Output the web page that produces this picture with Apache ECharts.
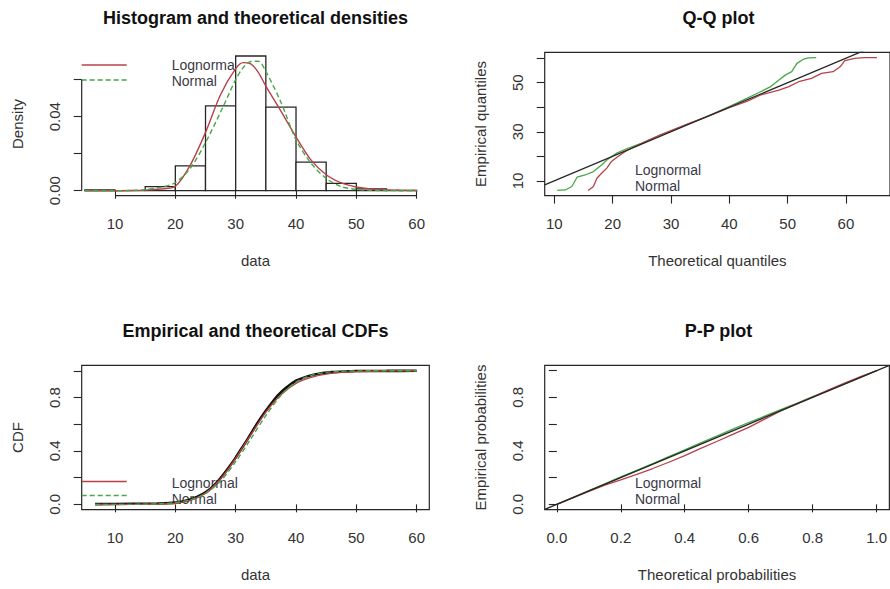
<!DOCTYPE html>
<html><head><meta charset="utf-8">
<script src="https://cdn.jsdelivr.net/npm/echarts@6/dist/echarts.min.js"></script>
<style>html,body{margin:0;padding:0;background:#fff}#c{width:890px;height:589px}</style>
</head><body><div id="c"></div>
<script>
// ---------- data ----------
const titles = ['Histogram and theoretical densities', 'Q-Q plot', 'Empirical and theoretical CDFs', 'P-P plot'];
const fitNames = ['Lognormal', 'Normal'];

// Histogram
const histBinStart = [5, 10, 15, 20, 25, 30, 35, 40, 45, 50, 55];
const histBinEnd   = [10, 15, 20, 25, 30, 35, 40, 45, 50, 55, 60];
const histDensity  = [0.0004, 0, 0.0022, 0.0134, 0.0458, 0.0728, 0.0452, 0.0154, 0.0040, 0.0010, 0.0002];
const densX     = [5, 7.5, 10, 12.5, 15, 17.5, 20, 22.5, 25, 27.5, 30, 31.25, 32.5, 33.75, 35, 37.5, 40, 42.5, 45, 47.5, 50, 52.5, 55, 57.5, 60];
const densLnorm = [0, 0, 0, 0.0001, 0.0003, 0.0009, 0.0024, 0.0140, 0.0315, 0.0520, 0.0660, 0.0692, 0.0685, 0.0640, 0.0565, 0.0430, 0.0290, 0.0165, 0.0086, 0.0042, 0.0020, 0.0009, 0.0004, 0.0002, 0.0001];
const densNorm  = [0, 0, 0, 0.0001, 0.0006, 0.0018, 0.0044, 0.0122, 0.0260, 0.0425, 0.0600, 0.0665, 0.0698, 0.0700, 0.0645, 0.0478, 0.0275, 0.0148, 0.0066, 0.0022, 0.0007, 0.0002, 0.0001, 0, 0];

// Q-Q plot (theoretical, empirical quantiles)
const qqNormX  = [10.5, 11.9, 13.0, 13.9, 15.3, 16.7, 18.1, 19.0, 20.7, 22.6, 25, 28, 30, 33, 36, 40, 43, 45, 47, 48.5, 49.6, 50.7, 51.6, 52.7, 53.6, 54.9];
const qqNormY  = [6.1, 6.3, 7.7, 11.5, 12.4, 13.8, 16.5, 18.5, 21.3, 23.3, 25.4, 28.5, 30.3, 33.2, 36.1, 40.3, 43.6, 45.9, 48.3, 51.1, 53.1, 54.5, 57.9, 59.6, 60.1, 60.2];
const qqLnormX = [15.8, 16.7, 17.3, 18.1, 19.0, 19.8, 20.9, 22.1, 23.2, 25, 28, 30, 33, 36, 40, 43, 45.4, 48.5, 50.2, 51.9, 54.1, 55.8, 57.8, 59.0, 59.8, 61.5, 63.2, 65.3];
const qqLnormY = [6.1, 7.7, 11.1, 13.1, 15.2, 17.9, 19.9, 21.9, 23.3, 25.3, 28.6, 30.5, 33.3, 36.0, 39.8, 42.4, 45.0, 47.0, 48.4, 50.4, 51.8, 53.8, 54.5, 56.5, 59.0, 59.9, 60.2, 60.2];

// CDFs
const ecdfX = [6.7, 13, 17, 19, 20, 21, 22, 23, 24, 25, 26, 27, 28, 29, 30, 31, 32, 33, 34, 35, 36, 37, 38, 39, 40, 42, 44, 46, 48, 50, 55, 60];
const ecdfY = [0.002, 0.004, 0.006, 0.01, 0.013, 0.02, 0.03, 0.045, 0.065, 0.09, 0.125, 0.17, 0.225, 0.285, 0.35, 0.42, 0.49, 0.565, 0.635, 0.70, 0.76, 0.815, 0.86, 0.895, 0.925, 0.96, 0.98, 0.99, 0.995, 0.998, 0.999, 1.0];
const cdfX     = [6.7, 10, 12.5, 15, 17.5, 20, 22.5, 25, 27.5, 30, 32.5, 35, 37.5, 40, 42.5, 45, 47.5, 50, 52.5, 55, 57.5, 60];
const cdfLnorm = [0, 0, 0, 0.0005, 0.002, 0.008, 0.03, 0.085, 0.19, 0.345, 0.52, 0.69, 0.82, 0.905, 0.95, 0.975, 0.988, 0.994, 0.997, 0.999, 0.9995, 1];
const cdfNorm  = [0, 0, 0.0001, 0.001, 0.0045, 0.013, 0.035, 0.08, 0.175, 0.32, 0.49, 0.665, 0.815, 0.915, 0.965, 0.988, 0.996, 0.999, 1, 1, 1, 1];

// P-P plot (theoretical, empirical probabilities)
const ppLnormX = [0, 0.05, 0.1, 0.15, 0.2, 0.25, 0.3, 0.35, 0.4, 0.45, 0.5, 0.55, 0.6, 0.65, 0.7, 0.75, 0.8, 0.85, 0.9, 0.95, 1];
const ppLnormY = [0, 0.049, 0.097, 0.143, 0.183, 0.225, 0.268, 0.315, 0.365, 0.418, 0.47, 0.523, 0.576, 0.637, 0.698, 0.752, 0.803, 0.856, 0.906, 0.955, 1];
const ppNormX  = [0, 0.05, 0.1, 0.15, 0.2, 0.25, 0.3, 0.35, 0.4, 0.45, 0.5, 0.55, 0.6, 0.65, 0.7, 0.75, 0.8, 0.85, 0.9, 0.95, 1];
const ppNormY  = [0, 0.051, 0.102, 0.153, 0.205, 0.255, 0.305, 0.357, 0.408, 0.46, 0.51, 0.562, 0.612, 0.66, 0.708, 0.756, 0.805, 0.852, 0.9, 0.95, 1];

// Ticks and labels
const histXTicks = [10, 20, 30, 40, 50, 60];
const histYTicks = [0, 0.02, 0.04, 0.06];
const histYLabels = [0, 0.04];
const qqXTicks = [10, 20, 30, 40, 50, 60];
const qqYTicks = [10, 20, 30, 40, 50, 60];
const qqYLabels = [10, 30, 50];
const cdfXTicks = [10, 20, 30, 40, 50, 60];
const probTicks = [0, 0.2, 0.4, 0.6, 0.8, 1];
const probLabels = [0, 0.4, 0.8];
const axisNames = { hx: 'data', hy: 'Density', qx: 'Theoretical quantiles', qy: 'Empirical quantiles',
                    cx: 'data', cy: 'CDF', px: 'Theoretical probabilities', py: 'Empirical probabilities' };

// Axis limits (R-style 4% extension)
const lim = {
  hx: [4.48, 62.09], hy: [-0.00265, 0.0748],
  qx: [8.35, 67.55], qy: [4.0, 62.4],
  cx: [4.48, 62.09], cy: [-0.040, 1.041],
  px: [-0.038, 1.040], py: [-0.040, 1.040]
};

// ---------- chart ----------
const FONT = '"Liberation Sans", Arial, Helvetica, sans-serif';
const RED = '#b8404a', GREEN = '#46a846', INK = '#262626', TXT = '#333333', LEG = '#3a3a48';
const zip = (a, b) => a.map((v, i) => [v, b[i]]);

function axis(gi, key, ticks, labels, fmt, isY) {
  return {
    type: 'value', gridIndex: gi, min: lim[key][0], max: lim[key][1],
    name: axisNames[key], nameLocation: 'middle', nameGap: 57,
    nameTextStyle: { fontFamily: FONT, fontSize: 15, color: TXT },
    axisLine: { show: false }, splitLine: { show: false },
    axisTick: { show: true, customValues: ticks, length: 8, inside: false, lineStyle: { color: INK, width: 1.1 } },
    axisLabel: { show: true, customValues: labels, formatter: fmt, margin: 20, fontFamily: FONT,
                 fontSize: 15, color: TXT, rotate: isY ? 90 : 0, hideOverlap: false }
  };
}
const f0 = v => String(v), f1 = v => v.toFixed(1), f2 = v => v.toFixed(2);

const gridBase = { width: 347.6, show: true, borderColor: INK, borderWidth: 1.2, backgroundColor: 'transparent' };
const lineS = (xi, data, color, extra) => Object.assign({
  type: 'line', xAxisIndex: xi, yAxisIndex: xi, data, symbol: 'none', silent: true,
  lineStyle: { color, width: 1.4 }, animation: false
}, extra || {});

const option = {
  animation: false,
  grid: [
    Object.assign({}, gridBase, { left: 81.7, top: 52.3, height: 143.3, show: false }),
    Object.assign({}, gridBase, { left: 544.7, top: 52.3, height: 143.3 }),
    Object.assign({}, gridBase, { left: 81.7, top: 365.3, height: 144.4 }),
    Object.assign({}, gridBase, { left: 544.7, top: 365.3, height: 144.4 })
  ],
  xAxis: [
    axis(0, 'hx', histXTicks, histXTicks, f0, false),
    axis(1, 'qx', qqXTicks, qqXTicks, f0, false),
    axis(2, 'cx', cdfXTicks, cdfXTicks, f0, false),
    axis(3, 'px', probTicks, probTicks, f1, false)
  ],
  yAxis: [
    axis(0, 'hy', histYTicks, histYLabels, f2, true),
    axis(1, 'qy', qqYTicks, qqYLabels, f0, true),
    axis(2, 'cy', probTicks, probLabels, f1, true),
    axis(3, 'py', probTicks, probLabels, f1, true)
  ],
  series: [
    // Panel 1: histogram
    {
      type: 'custom', xAxisIndex: 0, yAxisIndex: 0, silent: true,
      data: histBinStart.map((s, i) => [s, histBinEnd[i], histDensity[i]]),
      encode: { x: [0, 1], y: 2 },
      renderItem: (params, api) => {
        const p0 = api.coord([api.value(0), api.value(2)]);
        const p1 = api.coord([api.value(1), 0]);
        return { type: 'rect', shape: { x: p0[0], y: p0[1], width: p1[0] - p0[0], height: p1[1] - p0[1] },
                 style: { fill: '#ffffff', stroke: INK, lineWidth: 1.3 } };
      }
    },
    lineS(0, zip(densX, densLnorm), RED, { smooth: 0.3 }),
    lineS(0, zip(densX, densNorm), GREEN, { smooth: 0.3, lineStyle: { color: GREEN, width: 1.4, type: [5, 3] } }),
    lineS(0, [[histXTicks[0], lim.hy[0]], [histXTicks[histXTicks.length - 1], lim.hy[0]]], INK, { clip: false, lineStyle: { color: INK, width: 1.2 } }),
    lineS(0, [[lim.hx[0], histYTicks[0]], [lim.hx[0], histYTicks[histYTicks.length - 1]]], INK, { clip: false, lineStyle: { color: INK, width: 1.2 } }),
    // Panel 2: Q-Q
    lineS(1, zip(qqNormX, qqNormY), GREEN, { lineStyle: { color: GREEN, width: 1.3 } }),
    lineS(1, zip(qqLnormX, qqLnormY), RED, { lineStyle: { color: RED, width: 1.3 } }),
    lineS(1, [[lim.qx[0], lim.qx[0]], [lim.qx[1], lim.qx[1]]], INK, { lineStyle: { color: INK, width: 1.3 } }),
    // Panel 3: CDFs
    lineS(2, zip(ecdfX, ecdfY), '#111', { smooth: 0.2, lineStyle: { color: '#111', width: 2.6 } }),
    lineS(2, zip(cdfX, cdfLnorm), RED, { smooth: 0.3 }),
    lineS(2, zip(cdfX, cdfNorm), GREEN, { smooth: 0.3, lineStyle: { color: GREEN, width: 1.4, type: [5, 3] } }),
    // Panel 4: P-P
    lineS(3, zip(ppNormX, ppNormY), GREEN, { lineStyle: { color: GREEN, width: 1.3 } }),
    lineS(3, zip(ppLnormX, ppLnormY), RED, { lineStyle: { color: RED, width: 1.3 } }),
    lineS(3, [[lim.px[0], lim.px[0]], [lim.px[1], lim.px[1]]], INK, { lineStyle: { color: INK, width: 1.3 } })
  ],
  graphic: []
};

const titlePos = [[255.5, 17.5], [718.5, 17.5], [255.5, 330.5], [718.5, 330.5]];
titles.forEach((t, i) => option.graphic.push({
  type: 'text', x: titlePos[i][0], y: titlePos[i][1], silent: true,
  style: { text: t, align: 'center', verticalAlign: 'middle', textAlign: 'center', textVerticalAlign: 'middle',
           font: 'bold 18px ' + FONT, fill: '#111' }
}));
// legends
const legendBlocks = [
  { x: 171.7, y: [65.3, 81.2], lines: [65, 80] },
  { x: 635, y: [169.8, 185.7], lines: null },
  { x: 171.7, y: [482.8, 498.7], lines: [481.5, 495.5] },
  { x: 635, y: [483.3, 499.2], lines: null }
];
legendBlocks.forEach(b => {
  fitNames.forEach((n, k) => {
    option.graphic.push({ type: 'text', x: b.x, y: b.y[k], silent: true,
      style: { text: n, align: 'left', verticalAlign: 'middle', textAlign: 'left', textVerticalAlign: 'middle',
               font: '14px ' + FONT, fill: LEG } });
    if (b.lines) {
      option.graphic.push({ type: 'line', silent: true, shape: { x1: 81.7, y1: b.lines[k], x2: 126.7, y2: b.lines[k] },
        style: k === 0 ? { stroke: RED, lineWidth: 1.6 } : { stroke: GREEN, lineWidth: 1.6, lineDash: [5, 3] } });
    }
  });
});

const chart = echarts.init(document.getElementById('c'), null, { renderer: 'svg', width: 890, height: 589 });
chart.setOption(option);
</script>
</body></html>
